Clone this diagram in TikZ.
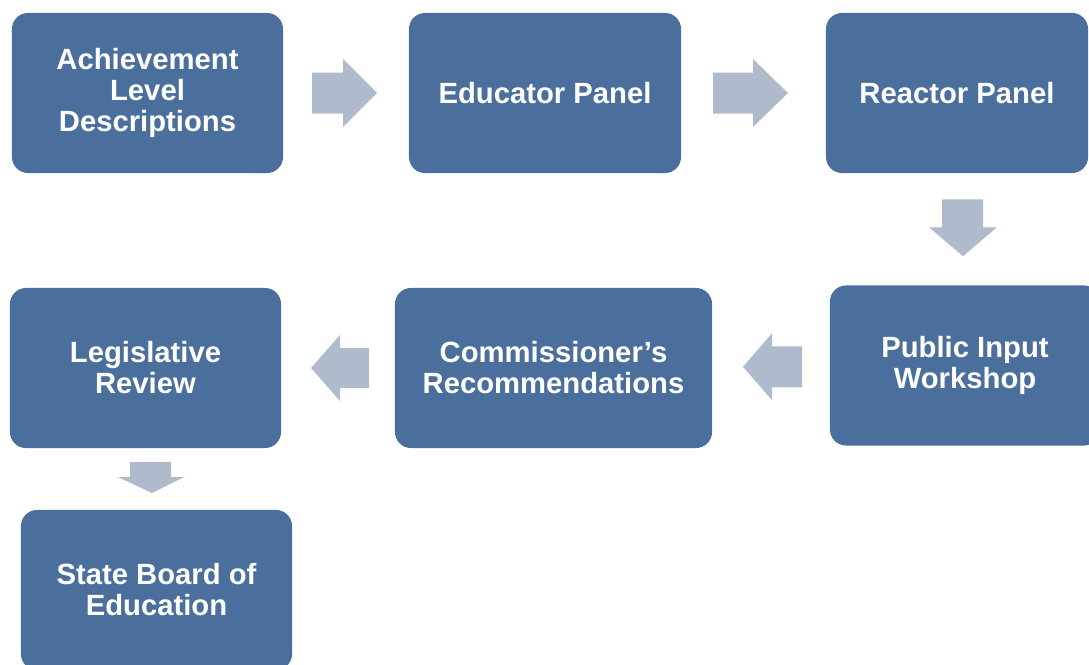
\documentclass[tikz,border=0pt]{standalone}
\usepackage{fontspec}
\setmainfont{Liberation Sans}
\usetikzlibrary{calc}
\definecolor{boxblue}{HTML}{4A6F9D}
\definecolor{arrowgrey}{HTML}{B0BACD}

\begin{document}
\begin{tikzpicture}[x=0.025cm,y=-0.025cm,
  stage/.style={fill=boxblue, rounded corners=0.4cm, minimum height=4cm, inner sep=0pt,
    text=white, align=center, font=\fontsize{20.8}{22}\selectfont\bfseries},
  flow/.style={fill=arrowgrey}]
\useasboundingbox (0,0) rectangle (1089,664);

% top row
\node[stage, minimum width=6.775cm] (ald) at (147.5,93) {Achievement\\Level\\Descriptions};
\node[stage, minimum width=6.8cm] (edu) at (545,93) {Educator Panel};
\node[stage, minimum width=6.55cm] (rea) at (957,93) {Reactor Panel};

% middle row
\node[stage, minimum width=6.75cm] (pub) at (965,365.5) {Public Input\\Workshop};
\node[stage, minimum width=7.925cm] (com) at (553.5,368) {Commissioner’s\\Recommendations};
\node[stage, minimum width=6.775cm] (leg) at (145.5,368) {Legislative\\Review};

% bottom
\node[stage, minimum width=6.775cm] (sbe) at (156.5,590) {State Board of\\Education};

% block arrows
\fill[flow, shift={($(ald.east)!0.5!(edu.west)$)}]
  (-34,-20.5) -- (-3,-20.5) -- (-3,-34) -- (31,0) -- (-3,34) -- (-3,20.5) -- (-34,20.5) -- cycle;
\fill[flow, shift={($(edu.east)!0.5!(rea.west)$)}]
  (-40.5,-20.5) -- (-0.5,-20.5) -- (-0.5,-34) -- (34.5,0) -- (-0.5,34) -- (-0.5,20.5) -- (-40.5,20.5) -- cycle;
\fill[flow, shift={($(rea.south)!0.5!(pub.north)$)}]
  (-19,-30) -- (-19,-2) -- (-32,-2) -- (2,27) -- (36,-2) -- (22,-2) -- (22,-30) -- cycle;
\fill[flow, shift={($(com.east)!0.5!(pub.west)$)}]
  (31,-20.5) -- (1,-20.5) -- (1,-33.5) -- (-28,0) -- (1,33.5) -- (1,20.5) -- (31,20.5) -- cycle;
\fill[flow, shift={($(leg.east)!0.5!(com.west)$)}]
  (31,-20) -- (2,-20) -- (2,-33) -- (-27,0) -- (2,33) -- (2,20) -- (31,20) -- cycle;
\fill[flow, shift={($(leg.south)!0.5!(sbe.north)$)}]
  (-21,-17) -- (-21,-2) -- (-33,-2) -- (1,14) -- (33,-2) -- (20,-2) -- (20,-17) -- cycle;
\end{tikzpicture}
\end{document}
